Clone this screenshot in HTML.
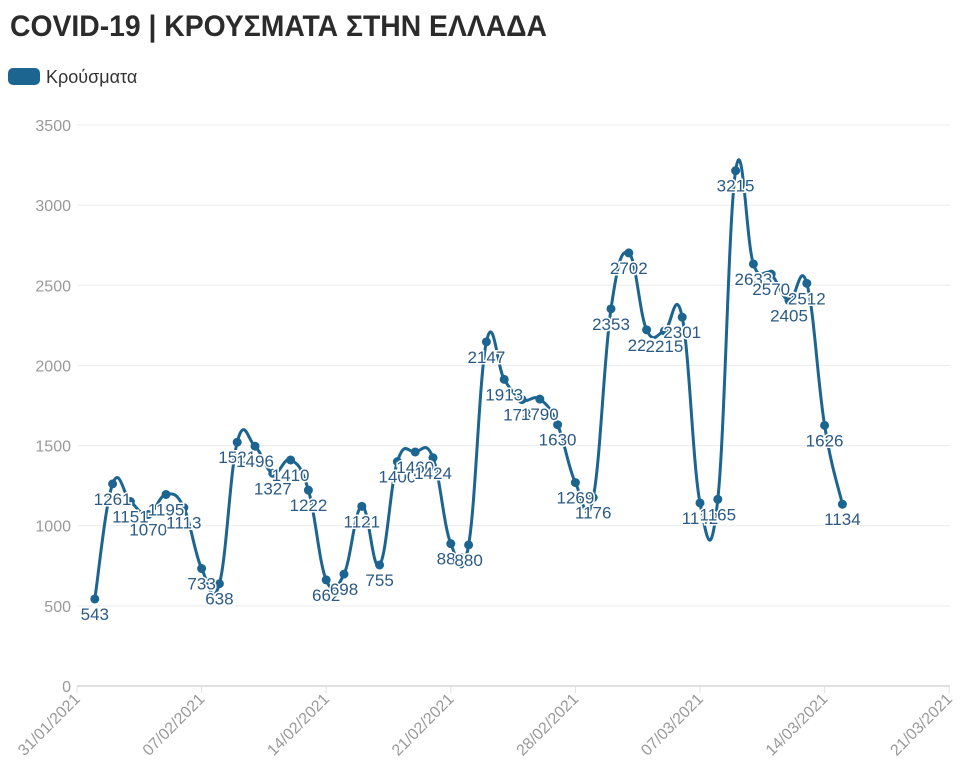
<!DOCTYPE html>
<html><head><meta charset="utf-8"><style>
body{margin:0;background:#fff;}
svg{display:block;font-family:"Liberation Sans Narrow","Liberation Sans",sans-serif;}
</style></head><body>
<svg id="c" width="968" height="774" xmlns="http://www.w3.org/2000/svg">
<text x="10" y="36" font-size="30" font-weight="bold" fill="#2b2b2b" textLength="537" lengthAdjust="spacingAndGlyphs">COVID-19 | ΚΡΟΥΣΜΑΤΑ ΣΤΗΝ ΕΛΛΑΔΑ</text>
<g>
<rect x="8" y="68" width="32" height="17" rx="5" fill="#1c6591"/>
<text x="46" y="83" font-size="18" fill="#333">Κρούσματα</text>
</g>
<g id="grid"></g><g id="xax"></g><g id="series"></g>
</svg>
<script>
const dates=["01/02","02/02","03/02","04/02","05/02","06/02","07/02","08/02","09/02","10/02","11/02","12/02","13/02","14/02","15/02","16/02","17/02","18/02","19/02","20/02","21/02","22/02","23/02","24/02","25/02","26/02","27/02","28/02","01/03","02/03","03/03","04/03","05/03","06/03","07/03","08/03","09/03","10/03","11/03","12/03","13/03","14/03","15/03"];
const cases=[543,1261,1151,1070,1195,1113,733,638,1521,1496,1327,1410,1222,662,698,1121,755,1400,1460,1424,888,880,2147,1913,1787,1790,1630,1269,1176,2353,2702,2222,2215,2301,1142,1165,3215,2633,2570,2405,2512,1626,1134];
const yTicks=[0,500,1000,1500,2000,2500,3000,3500];
const xTicks=["31/01/2021","07/02/2021","14/02/2021","21/02/2021","28/02/2021","07/03/2021","14/03/2021","21/03/2021"];
const NS="http://www.w3.org/2000/svg";
const X0=77,DAY=17.8,Y0=686,YS=561/3500;
const x=i=>X0+DAY*(i+1);
const y=v=>Y0-v*YS;
function mk(t,a,p){const e=document.createElementNS(NS,t);for(const k in a)e.setAttribute(k,a[k]);p.appendChild(e);return e;}
const grid=document.getElementById('grid');
yTicks.forEach(v=>{
  const l=mk('line',{x1:X0,x2:950,y1:y(v),y2:y(v),stroke:v===0?'#e0e0e0':'#ececec','stroke-width':v===0?2:1},grid);
  
  
  const t=mk('text',{x:71,y:y(v)+6,'text-anchor':'end','font-size':16,fill:'#999'},grid);
  t.textContent=v;
  
  
});
const xax=document.getElementById('xax');
xTicks.forEach((d,i)=>{
  const px=X0+DAY*7*i;
  const tk=mk('line',{x1:px,x2:px,y1:686,y2:693,stroke:'#e0e0e0','stroke-width':1},xax);
  
  
  const t=mk('text',{x:px+4,y:700,'text-anchor':'end','font-size':16,fill:'#999',transform:`rotate(-45 ${px+4} 700)`},xax);
  t.textContent=d;
  
  
});
const g=document.getElementById('series');
const P=cases.map((v,i)=>[x(i),y(v)]);
let d=`M${P[0][0]},${P[0][1]}`;
for(let i=0;i<P.length-1;i++){
  const p0=P[Math.max(0,i-1)],p1=P[i],p2=P[i+1],p3=P[Math.min(P.length-1,i+2)];
  const k=0.2;
  d+=` C${p1[0]+(p2[0]-p0[0])*k},${p1[1]+(p2[1]-p0[1])*k} ${p2[0]-(p3[0]-p1[0])*k},${p2[1]-(p3[1]-p1[1])*k} ${p2[0]},${p2[1]}`;
}
const line=mk('path',{d:d,fill:'none',stroke:'#1c6591','stroke-width':3,'stroke-linejoin':'round'},g);


cases.forEach((v,i)=>{
  const c=mk('circle',{cx:x(i),cy:y(v),r:4.5,fill:'#1c6591'},g);
  
  
});
cases.forEach((v,i)=>{
  const t=mk('text',{x:x(i),y:y(v)+21,'text-anchor':'middle','font-size':17,fill:'#2a5a85',stroke:'#fff','stroke-width':3,'paint-order':'stroke'},g);
  t.textContent=v;
  
  
});
</script>
</body></html>
